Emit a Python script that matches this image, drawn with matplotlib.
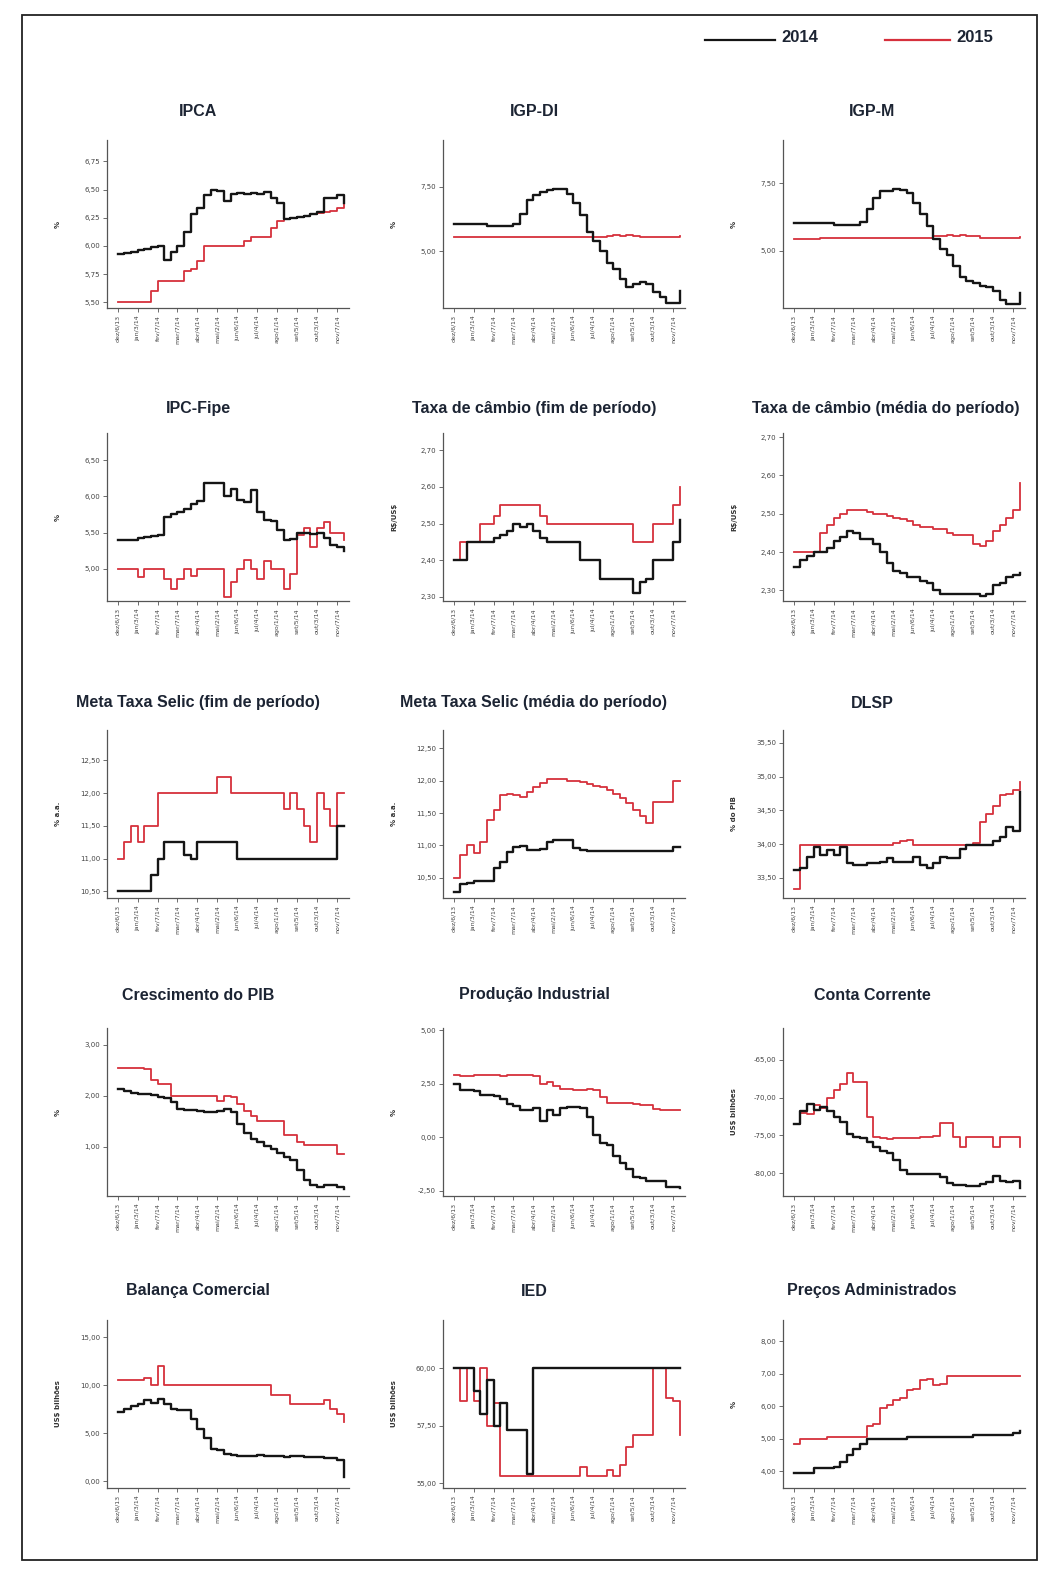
import matplotlib
matplotlib.use("Agg")
import matplotlib.pyplot as plt
from matplotlib.patches import Rectangle
from matplotlib.lines import Line2D

W, H = 1047, 1570

# Week labels on the x axis (one tick per month, three points per month)
months = ["dez/6/13", "jan/3/14", "fev/7/14", "mar/7/14", "abr/4/14", "mai/2/14",
          "jun/6/14", "jul/4/14", "ago/1/14", "set/5/14", "out/3/14", "nov/7/14"]

# ---- series (2014 = black, 2015 = red) ----
ipca_2014 = [5.93, 5.94, 5.95, 5.96, 5.97, 5.99, 6.00, 5.88, 5.95, 6.00,
             6.12, 6.28, 6.34, 6.45, 6.50, 6.49, 6.40, 6.46, 6.47, 6.46,
             6.47, 6.46, 6.48, 6.43, 6.38, 6.24, 6.25, 6.26, 6.27, 6.28,
             6.30, 6.43, 6.43, 6.45, 6.38]
ipca_2015 = [5.50, 5.50, 5.50, 5.50, 5.50, 5.60, 5.69, 5.69, 5.69, 5.69,
             5.78, 5.80, 5.87, 6.00, 6.00, 6.00, 6.00, 6.00, 6.00, 6.04,
             6.08, 6.08, 6.08, 6.16, 6.22, 6.24, 6.25, 6.26, 6.27, 6.28,
             6.29, 6.30, 6.31, 6.34, 6.38]

igpdi_2014 = [6.05, 6.05, 6.05, 6.05, 6.05, 5.96, 5.96, 5.96, 5.96, 6.05,
              6.45, 7.00, 7.16, 7.30, 7.38, 7.41, 7.42, 7.20, 6.85, 6.40,
              5.75, 5.40, 5.00, 4.55, 4.30, 3.90, 3.62, 3.72, 3.80, 3.72,
              3.40, 3.20, 2.98, 2.98, 3.45]
igpdi_2015 = [5.55, 5.55, 5.55, 5.55, 5.55, 5.55, 5.55, 5.55, 5.55, 5.55,
              5.55, 5.55, 5.55, 5.55, 5.55, 5.55, 5.55, 5.55, 5.55, 5.55,
              5.55, 5.55, 5.55, 5.60, 5.61, 5.60, 5.61, 5.60, 5.55, 5.55,
              5.55, 5.55, 5.55, 5.56, 5.58]

igpm_2014 = [6.01, 6.01, 6.01, 6.01, 6.01, 6.01, 5.95, 5.95, 5.95, 5.95,
             6.07, 6.56, 6.95, 7.20, 7.20, 7.30, 7.23, 7.15, 6.75, 6.35,
             5.90, 5.45, 5.05, 4.85, 4.45, 4.05, 3.90, 3.80, 3.72, 3.66,
             3.50, 3.20, 3.05, 3.05, 3.45]
igpm_2015 = [5.43, 5.43, 5.43, 5.43, 5.49, 5.49, 5.49, 5.49, 5.49, 5.49,
             5.49, 5.49, 5.49, 5.49, 5.49, 5.49, 5.49, 5.49, 5.49, 5.49,
             5.49, 5.56, 5.56, 5.57, 5.56, 5.57, 5.56, 5.56, 5.47, 5.47,
             5.47, 5.47, 5.47, 5.47, 5.52]

ipcfipe_2014 = [5.39, 5.39, 5.39, 5.42, 5.44, 5.45, 5.46, 5.72, 5.76, 5.78,
                5.83, 5.90, 5.94, 6.18, 6.18, 6.19, 6.00, 6.10, 5.95, 5.92,
                6.09, 5.78, 5.67, 5.66, 5.53, 5.40, 5.41, 5.50, 5.49, 5.48,
                5.49, 5.42, 5.33, 5.30, 5.24]
ipcfipe_2015 = [5.00, 5.00, 5.00, 4.88, 5.00, 5.00, 5.00, 4.86, 4.72, 4.86,
                5.00, 4.90, 5.00, 5.00, 5.00, 5.00, 4.60, 4.82, 5.00, 5.12,
                5.00, 4.85, 5.10, 5.00, 4.99, 4.72, 4.92, 5.46, 5.56, 5.30,
                5.56, 5.65, 5.50, 5.50, 5.40]

cambio_fim_2014 = [2.40, 2.40, 2.45, 2.45, 2.45, 2.45, 2.46, 2.47, 2.48, 2.50,
                   2.49, 2.50, 2.48, 2.46, 2.45, 2.45, 2.45, 2.45, 2.45, 2.40,
                   2.40, 2.40, 2.35, 2.35, 2.35, 2.35, 2.35, 2.31, 2.34, 2.35,
                   2.40, 2.40, 2.40, 2.45, 2.51]
cambio_fim_2015 = [2.40, 2.45, 2.45, 2.45, 2.50, 2.50, 2.52, 2.55, 2.55, 2.55,
                   2.55, 2.55, 2.55, 2.52, 2.50, 2.50, 2.50, 2.50, 2.50, 2.50,
                   2.50, 2.50, 2.50, 2.50, 2.50, 2.50, 2.50, 2.45, 2.45, 2.45,
                   2.50, 2.50, 2.50, 2.55, 2.60]

cambio_media_2014 = [2.36, 2.38, 2.39, 2.40, 2.40, 2.41, 2.43, 2.44, 2.455, 2.45,
                     2.435, 2.435, 2.42, 2.40, 2.37, 2.35, 2.345, 2.335, 2.335, 2.325,
                     2.32, 2.30, 2.29, 2.29, 2.29, 2.29, 2.29, 2.29, 2.285, 2.29,
                     2.315, 2.32, 2.335, 2.34, 2.345]
cambio_media_2015 = [2.40, 2.40, 2.40, 2.40, 2.45, 2.47, 2.49, 2.50, 2.51, 2.51,
                     2.51, 2.505, 2.50, 2.50, 2.495, 2.49, 2.485, 2.48, 2.47, 2.465,
                     2.465, 2.46, 2.46, 2.45, 2.445, 2.445, 2.445, 2.42, 2.415, 2.43,
                     2.455, 2.47, 2.49, 2.51, 2.58]

selic_fim_2014 = [10.50, 10.50, 10.50, 10.50, 10.50, 10.75, 11.00, 11.25, 11.25, 11.25,
                  11.05, 11.00, 11.25, 11.25, 11.25, 11.25, 11.25, 11.25, 11.00, 11.00,
                  11.00, 11.00, 11.00, 11.00, 11.00, 11.00, 11.00, 11.00, 11.00, 11.00,
                  11.00, 11.00, 11.00, 11.50, 11.50]
selic_fim_2015 = [11.00, 11.25, 11.50, 11.25, 11.50, 11.50, 12.00, 12.00, 12.00, 12.00,
                  12.00, 12.00, 12.00, 12.00, 12.00, 12.25, 12.25, 12.00, 12.00, 12.00,
                  12.00, 12.00, 12.00, 12.00, 12.00, 11.75, 12.00, 11.75, 11.50, 11.25,
                  12.00, 11.75, 11.50, 12.00, 12.00]

selic_media_2014 = [10.28, 10.40, 10.42, 10.45, 10.45, 10.45, 10.65, 10.75, 10.90, 10.98,
                    10.99, 10.93, 10.93, 10.95, 11.05, 11.08, 11.08, 11.08, 10.96, 10.93,
                    10.91, 10.91, 10.91, 10.91, 10.91, 10.91, 10.91, 10.91, 10.91, 10.91,
                    10.91, 10.91, 10.91, 10.98, 10.98]
selic_media_2015 = [10.50, 10.85, 11.00, 10.88, 11.05, 11.40, 11.55, 11.78, 11.80, 11.78,
                    11.75, 11.82, 11.90, 11.96, 12.03, 12.03, 12.02, 12.00, 12.00, 11.98,
                    11.95, 11.92, 11.90, 11.86, 11.80, 11.73, 11.65, 11.55, 11.45, 11.34,
                    11.67, 11.67, 11.67, 12.00, 12.00]

dlsp_2014 = [33.62, 33.64, 33.81, 33.96, 33.84, 33.91, 33.84, 33.96, 33.72, 33.69,
             33.69, 33.72, 33.72, 33.74, 33.79, 33.74, 33.74, 33.74, 33.81, 33.69,
             33.64, 33.72, 33.81, 33.79, 33.79, 33.93, 33.98, 33.98, 33.98, 33.98,
             34.05, 34.10, 34.25, 34.20, 34.77]
dlsp_2015 = [33.33, 33.98, 33.98, 33.98, 33.98, 33.98, 33.98, 33.98, 33.98, 33.98,
             33.98, 33.98, 33.98, 33.98, 33.98, 34.02, 34.05, 34.06, 33.98, 33.98,
             33.98, 33.98, 33.98, 33.98, 33.98, 33.98, 33.98, 34.02, 34.32, 34.44,
             34.56, 34.73, 34.74, 34.80, 34.92]

pib_2014 = [2.13, 2.10, 2.05, 2.03, 2.03, 2.02, 1.97, 1.95, 1.87, 1.73,
            1.71, 1.71, 1.70, 1.68, 1.68, 1.70, 1.73, 1.68, 1.45, 1.27,
            1.15, 1.10, 1.02, 0.95, 0.88, 0.80, 0.73, 0.55, 0.35, 0.25,
            0.20, 0.24, 0.24, 0.20, 0.17]
pib_2015 = [2.55, 2.55, 2.55, 2.55, 2.52, 2.30, 2.23, 2.23, 2.00, 2.00,
            2.00, 2.00, 2.00, 2.00, 2.00, 1.90, 2.00, 1.98, 1.83, 1.70,
            1.60, 1.50, 1.50, 1.50, 1.50, 1.23, 1.22, 1.10, 1.03, 1.03,
            1.03, 1.03, 1.03, 0.85, 0.85]

prod_2014 = [2.50, 2.20, 2.20, 2.15, 2.00, 2.00, 1.95, 1.80, 1.55, 1.45,
             1.30, 1.30, 1.35, 0.75, 1.30, 1.05, 1.35, 1.40, 1.40, 1.35,
             0.95, 0.10, -0.25, -0.35, -0.85, -1.20, -1.50, -1.85, -1.90, -2.05,
             -2.05, -2.05, -2.30, -2.30, -2.38]
prod_2015 = [2.90, 2.85, 2.88, 2.90, 2.92, 2.90, 2.92, 2.88, 2.92, 2.92,
             2.92, 2.92, 2.85, 2.50, 2.60, 2.40, 2.25, 2.25, 2.22, 2.22,
             2.25, 2.22, 1.90, 1.62, 1.60, 1.60, 1.60, 1.55, 1.52, 1.50,
             1.32, 1.30, 1.30, 1.30, 1.30]

cc_2014 = [-73.5, -71.8, -70.8, -71.6, -71.2, -71.8, -72.6, -73.2, -74.8, -75.2,
           -75.3, -75.8, -76.5, -77.1, -77.3, -78.3, -79.5, -80.1, -80.1, -80.1,
           -80.1, -80.1, -80.5, -81.3, -81.5, -81.6, -81.7, -81.7, -81.4, -81.2,
           -80.4, -81.0, -81.2, -81.0, -81.9]
cc_2015 = [-73.5, -72.0, -72.1, -71.0, -71.4, -70.1, -69.0, -68.2, -66.8, -67.9,
           -68.0, -72.5, -75.2, -75.4, -75.5, -75.4, -75.3, -75.4, -75.3, -75.2,
           -75.2, -75.1, -73.4, -73.4, -75.2, -76.5, -75.2, -75.2, -75.2, -75.2,
           -76.5, -75.2, -75.2, -75.2, -76.5]

balanca_2014 = [7.2, 7.5, 7.8, 8.0, 8.5, 8.2, 8.6, 8.0, 7.5, 7.4,
                7.4, 6.5, 5.4, 4.5, 3.4, 3.3, 2.8, 2.7, 2.6, 2.6,
                2.6, 2.7, 2.6, 2.6, 2.6, 2.5, 2.6, 2.6, 2.5, 2.5,
                2.5, 2.4, 2.4, 2.2, 0.4]
balanca_2015 = [10.5, 10.5, 10.5, 10.5, 10.8, 10.0, 12.0, 10.0, 10.0, 10.0,
                10.0, 10.0, 10.0, 10.0, 10.0, 10.0, 10.0, 10.0, 10.0, 10.0,
                10.0, 10.0, 10.0, 9.0, 9.0, 9.0, 8.0, 8.0, 8.0, 8.0,
                8.0, 8.5, 7.5, 7.0, 6.2]

ied_2014 = [60.0, 60.0, 60.0, 59.0, 58.0, 59.5, 57.5, 58.5, 57.3, 57.3,
            57.3, 55.4, 60.0, 60.0, 60.0, 60.0, 60.0, 60.0, 60.0, 60.0,
            60.0, 60.0, 60.0, 60.0, 60.0, 60.0, 60.0, 60.0, 60.0, 60.0,
            60.0, 60.0, 60.0, 60.0, 60.0]
ied_2015 = [60.0, 58.6, 60.0, 58.6, 60.0, 57.5, 58.5, 55.3, 55.3, 55.3,
            55.3, 55.3, 55.3, 55.3, 55.3, 55.3, 55.3, 55.3, 55.3, 55.7,
            55.3, 55.3, 55.3, 55.6, 55.3, 55.8, 56.6, 57.1, 57.1, 57.1,
            60.0, 60.0, 58.7, 58.6, 57.1]

adm_2014 = [3.94, 3.94, 3.95, 4.10, 4.12, 4.10, 4.15, 4.30, 4.50, 4.70,
            4.85, 5.00, 5.00, 5.00, 5.00, 5.00, 5.00, 5.06, 5.06, 5.06,
            5.06, 5.06, 5.06, 5.06, 5.06, 5.06, 5.06, 5.12, 5.12, 5.12,
            5.12, 5.12, 5.12, 5.18, 5.24]
adm_2015 = [4.85, 5.00, 5.00, 5.00, 5.00, 5.05, 5.05, 5.05, 5.05, 5.05,
            5.05, 5.40, 5.45, 5.95, 6.05, 6.20, 6.25, 6.50, 6.55, 6.80,
            6.85, 6.65, 6.70, 6.95, 6.95, 6.95, 6.95, 6.95, 6.95, 6.95,
            6.95, 6.95, 6.95, 6.95, 6.95]

titles = ["IPCA", "IGP-DI", "IGP-M",
          "IPC-Fipe", "Taxa de câmbio (fim de período)", "Taxa de câmbio (média do período)",
          "Meta Taxa Selic (fim de período)", "Meta Taxa Selic (média do período)", "DLSP",
          "Crescimento do PIB", "Produção Industrial", "Conta Corrente",
          "Balança Comercial", "IED", "Preços Administrados"]
# dollar signs escaped so mathtext does not eat them
units = ["%", "%", "%",
         "%", r"R\$/US\$", r"R\$/US\$",
         "% a.a.", "% a.a.", "% do PIB",
         "%", "%", r"US\$ bilhões",
         r"US\$ bilhões", r"US\$ bilhões", "%"]
series_2014 = [ipca_2014, igpdi_2014, igpm_2014, ipcfipe_2014, cambio_fim_2014,
               cambio_media_2014, selic_fim_2014, selic_media_2014, dlsp_2014,
               pib_2014, prod_2014, cc_2014, balanca_2014, ied_2014, adm_2014]
series_2015 = [ipca_2015, igpdi_2015, igpm_2015, ipcfipe_2015, cambio_fim_2015,
               cambio_media_2015, selic_fim_2015, selic_media_2015, dlsp_2015,
               pib_2015, prod_2015, cc_2015, balanca_2015, ied_2015, adm_2015]
yticks = [[5.50, 5.75, 6.00, 6.25, 6.50, 6.75], [5.00, 7.50], [5.00, 7.50],
          [5.00, 5.50, 6.00, 6.50], [2.30, 2.40, 2.50, 2.60, 2.70], [2.30, 2.40, 2.50, 2.60, 2.70],
          [10.50, 11.00, 11.50, 12.00, 12.50], [10.50, 11.00, 11.50, 12.00, 12.50],
          [33.50, 34.00, 34.50, 35.00, 35.50],
          [1.00, 2.00, 3.00], [-2.50, 0.00, 2.50, 5.00], [-80.00, -75.00, -70.00, -65.00],
          [0.00, 5.00, 10.00, 15.00], [55.00, 57.50, 60.00], [4.00, 5.00, 6.00, 7.00, 8.00]]
ylims = [(5.45, 6.94), (2.79, 9.31), (2.89, 9.09),
         (4.55, 6.88), (2.289, 2.747), (2.272, 2.711),
         (10.40, 12.96), (10.19, 12.78), (33.20, 35.69),
         (0.03, 3.33), (-2.74, 5.11), (-83.0, -60.8),
         (-0.7, 16.8), (54.8, 62.1), (3.49, 8.66)]

TITLE_FONT = ["Liberation Sans", "DejaVu Sans"]
BLACK = "#151515"
RED = "#d6303c"


def px_axes(fig, left, top, width, height):
    # pixel box (from top-left) -> figure fraction
    return fig.add_axes([left / W, 1 - (top + height) / H, width / W, height / H])


def fmt(v):
    return f"{v:.2f}".replace(".", ",")


def draw_panel(ax, i):
    x = list(range(len(series_2014[i])))
    ax.plot(x, series_2015[i], color=RED, lw=1.3, drawstyle="steps-post")
    ax.plot(x, series_2014[i], color=BLACK, lw=1.7, drawstyle="steps-post")

    ax.set_xlim(-1.6, 34.8)
    ax.set_ylim(*ylims[i])
    ax.set_xticks(range(0, 36, 3))
    ax.set_xticklabels(months, rotation=90, fontsize=4.5, color="#444")
    ax.set_yticks(yticks[i])
    ax.set_yticklabels([fmt(v) for v in yticks[i]], fontsize=5, color="#444")
    ax.set_ylabel(units[i], fontsize=5, color="#333", fontweight="bold")
    ax.yaxis.set_label_coords(-0.19, 0.5)

    for s in ["top", "right"]:
        ax.spines[s].set_visible(False)
    for s in ["left", "bottom"]:
        ax.spines[s].set_color("#555")
        ax.spines[s].set_linewidth(0.9)
    ax.tick_params(length=3, width=0.6, color="#555", pad=2)


fig = plt.figure(figsize=(W / 100, H / 100), dpi=100)

col_left = [107, 443, 783]
title_x = [198, 534, 886]
row_top = [140, 433, 730, 1028, 1320]
title_y = [112, 408, 703, 995, 1291]

for i in range(15):
    r, c = divmod(i, 3)
    ax = px_axes(fig, col_left[c], row_top[r], 242, 168)
    draw_panel(ax, i)
    tx = title_x[c] if c < 2 else (872 if len(titles[i]) < 25 else 886)
    fig.text(tx / W, 1 - title_y[r] / H, titles[i], ha="center", va="center",
             fontsize=11.5, fontweight="bold", color="#1c2433", family=TITLE_FONT)

# legend on top right
fig.add_artist(Line2D([705 / W, 775 / W], [1 - 40 / H, 1 - 40 / H], color=BLACK, lw=1.6))
fig.add_artist(Line2D([885 / W, 950 / W], [1 - 40 / H, 1 - 40 / H], color=RED, lw=1.6))
fig.text(781 / W, 1 - 37 / H, "2014", fontsize=12, fontweight="bold", va="center",
         color="#1c2433", family=TITLE_FONT)
fig.text(956 / W, 1 - 37 / H, "2015", fontsize=12, fontweight="bold", va="center",
         color="#1c2433", family=TITLE_FONT)

# outer frame
fig.add_artist(Rectangle((22 / W, 1 - 1560 / H), (1037 - 22) / W, (1560 - 15) / H,
                         fill=False, lw=1.3, ec="#222", transform=fig.transFigure))

fig.savefig("out.png", dpi=100)
